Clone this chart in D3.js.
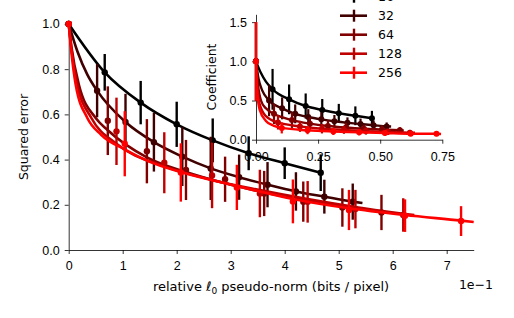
<!DOCTYPE html>
<html>
<head>
<meta charset="utf-8">
<script src="https://cdn.jsdelivr.net/npm/d3@7"></script>
<style>
  body { margin: 0; background: #fff; }
  svg { display: block; font-family: "DejaVu Sans", sans-serif; }
  .axis text { font-size: 12.5px; fill: #000; }
  .axis path, .axis line { stroke: #000; stroke-width: 0.8; }
</style>
</head>
<body>
<svg id="chart" width="514" height="318"></svg>
<script>
// dictionary sizes, one series each
const sizes = ['16', '32', '64', '128', '256'];
const colors = ['#000000', '#400000', '#800000', '#bf0000', '#ff0000'];

// main panel: error bars (x in units of 1e-1, squared error, half-width)
const mainX16 = [0, 0.667, 1.333, 2.0, 2.667, 3.333, 4.0, 4.667];
const mainY16 = [1.0, 0.786, 0.652, 0.556, 0.485, 0.428, 0.384, 0.342];
const mainE16 = [0, 0.081, 0.096, 0.1, 0.097, 0.075, 0.07, 0.081];

const mainX32 = [0, 0.526, 1.052, 1.578, 2.104, 2.63, 3.156, 3.682, 4.208, 4.734, 5.26];
const mainY32 = [1.0, 0.705, 0.566, 0.477, 0.413, 0.361, 0.322, 0.289, 0.259, 0.236, 0.214];
const mainE32 = [0, 0.118, 0.125, 0.13, 0.13, 0.14, 0.1, 0.1, 0.085, 0.075, 0.08];

const mainX64 = [0, 0.724, 1.448, 2.172, 2.896, 3.62, 4.344, 5.068, 5.792];
const mainY64 = [1.0, 0.572, 0.437, 0.354, 0.313, 0.25, 0.214, 0.188, 0.166];
const mainE64 = [0, 0.152, 0.142, 0.133, 0.1, 0.1, 0.089, 0.085, 0.078];

const mainX128 = [0, 0.885, 1.77, 2.655, 3.54, 4.425, 5.31, 6.195];
const mainY128 = [1.0, 0.525, 0.386, 0.33, 0.25, 0.213, 0.181, 0.155];
const mainE128 = [0, 0.149, 0.135, 0.145, 0.105, 0.092, 0.085, 0.074];

const mainX256 = [0, 1.038, 2.076, 3.114, 4.152, 5.19, 6.228, 7.266];
const mainY256 = [1.0, 0.47, 0.343, 0.277, 0.215, 0.177, 0.152, 0.128];
const mainE256 = [0, 0.144, 0.129, 0.1, 0.097, 0.089, 0.072, 0.066];

// main panel: curves [x, y]
const curve16 = [[0, 1], [0.667, 0.786], [1.333, 0.652], [2.0, 0.556], [2.667, 0.485], [3.333, 0.428], [4.0, 0.384], [4.667, 0.342]];
const curve32 = [[0, 1], [0.16, 0.879], [0.345, 0.776], [0.526, 0.705], [1.052, 0.566], [1.578, 0.477], [2.104, 0.413],
  [2.63, 0.361], [3.156, 0.322], [3.682, 0.289], [4.208, 0.259], [4.734, 0.236], [5.26, 0.214], [5.44, 0.208]];
const curve64 = [[0, 1], [0.05, 0.9], [0.19, 0.73], [0.5, 0.584], [0.724, 0.53], [1.448, 0.41], [2.172, 0.345], [2.896, 0.295],
  [3.62, 0.255], [4.344, 0.222], [5.068, 0.195], [5.792, 0.17], [5.95, 0.165]];
const curve128 = [[0, 1], [0.05, 0.89], [0.16, 0.73], [0.42, 0.584], [0.885, 0.47], [1.77, 0.37], [2.655, 0.31], [3.54, 0.265],
  [4.425, 0.225], [5.31, 0.19], [6.195, 0.16], [6.4, 0.155]];
const curve256 = [[0, 1], [0.048, 0.879], [0.13, 0.731], [0.345, 0.584], [0.6, 0.51], [1.038, 0.445], [1.5, 0.39], [2.076, 0.345],
  [3.114, 0.283], [4.152, 0.226], [5.19, 0.185], [6.228, 0.155], [7.266, 0.13], [7.5, 0.124]];

// inset: coefficient error bars
const insX16 = [0, 0.0667, 0.1333, 0.2, 0.2667, 0.3333, 0.4, 0.4667];
const insY16 = [1.0, 0.643, 0.515, 0.43, 0.379, 0.337, 0.305, 0.273];
const insE16 = [0.5, 0.26, 0.19, 0.16, 0.14, 0.12, 0.12, 0.095];

const insX32 = [0, 0.0526, 0.1052, 0.1578, 0.2104, 0.263, 0.3156, 0.3682, 0.4208, 0.4734, 0.526];
const insY32 = [1.0, 0.5, 0.4, 0.33, 0.29, 0.26, 0.235, 0.215, 0.2, 0.185, 0.17];
const insE32 = [0.5, 0.2, 0.14, 0.12, 0.1, 0.09, 0.08, 0.07, 0.07, 0.06, 0.05];

const insX64 = [0, 0.0724, 0.1448, 0.2172, 0.2896, 0.362, 0.4344, 0.5068, 0.5792];
const insY64 = [1.0, 0.33, 0.25, 0.205, 0.175, 0.155, 0.14, 0.13, 0.12];
const insE64 = [0.5, 0.13, 0.1, 0.08, 0.07, 0.06, 0.05, 0.05, 0.04];

const insX128 = [0, 0.0885, 0.177, 0.2655, 0.354, 0.4425, 0.531, 0.6195];
const insY128 = [1.0, 0.22, 0.17, 0.14, 0.125, 0.11, 0.1, 0.09];
const insE128 = [0.5, 0.09, 0.07, 0.06, 0.05, 0.045, 0.04, 0.035];

const insX256 = [0, 0.1038, 0.2076, 0.3114, 0.4152, 0.519, 0.6228, 0.7266];
const insY256 = [1.0, 0.15, 0.12, 0.105, 0.095, 0.085, 0.075, 0.075];
const insE256 = [0.5, 0.07, 0.05, 0.045, 0.04, 0.035, 0.03, 0.03];

// inset curves [x, y]
const insCurve16 = [[0, 1], [0.02, 0.85], [0.04, 0.74], [0.0667, 0.643], [0.1333, 0.515], [0.2, 0.43], [0.2667, 0.379],
  [0.3333, 0.337], [0.4, 0.305], [0.4667, 0.273]];
const insCurve32 = [[0, 1], [0.01, 0.78], [0.025, 0.63], [0.0526, 0.5], [0.1052, 0.4], [0.1578, 0.33], [0.2104, 0.29], [0.263, 0.26],
  [0.3156, 0.235], [0.3682, 0.215], [0.4208, 0.2], [0.4734, 0.185], [0.526, 0.17], [0.544, 0.168]];
const insCurve64 = [[0, 1], [0.008, 0.7], [0.02, 0.5], [0.04, 0.4], [0.0724, 0.33], [0.1448, 0.25], [0.2172, 0.205], [0.2896, 0.175],
  [0.362, 0.155], [0.4344, 0.14], [0.5068, 0.13], [0.5792, 0.12], [0.595, 0.118]];
const insCurve128 = [[0, 1], [0.006, 0.65], [0.015, 0.45], [0.04, 0.3], [0.0885, 0.22], [0.177, 0.17], [0.2655, 0.14], [0.354, 0.125],
  [0.4425, 0.11], [0.531, 0.1], [0.6195, 0.09], [0.64, 0.088]];
const insCurve256 = [[0, 1], [0.005, 0.6], [0.015, 0.38], [0.04, 0.24], [0.07, 0.18], [0.1038, 0.15], [0.2076, 0.12], [0.3114, 0.105],
  [0.4152, 0.095], [0.519, 0.085], [0.6228, 0.075], [0.7266, 0.075], [0.745, 0.072]];

const mainTicksX = [0, 1, 2, 3, 4, 5, 6, 7];
const mainTicksY = [0, 0.2, 0.4, 0.6, 0.8, 1.0];
const insTicksX = [0, 0.25, 0.5, 0.75];
const insTicksY = [0, 0.5, 1.0, 1.5];

const mainSeries = [
  { x: mainX16, y: mainY16, e: mainE16, curve: curve16 },
  { x: mainX32, y: mainY32, e: mainE32, curve: curve32 },
  { x: mainX64, y: mainY64, e: mainE64, curve: curve64 },
  { x: mainX128, y: mainY128, e: mainE128, curve: curve128 },
  { x: mainX256, y: mainY256, e: mainE256, curve: curve256 },
];
const insSeries = [
  { x: insX16, y: insY16, e: insE16, curve: insCurve16 },
  { x: insX32, y: insY32, e: insE32, curve: insCurve32 },
  { x: insX64, y: insY64, e: insE64, curve: insCurve64 },
  { x: insX128, y: insY128, e: insE128, curve: insCurve128 },
  { x: insX256, y: insY256, e: insE256, curve: insCurve256 },
];

const svg = d3.select('#chart');

function drawSeries(g, series, x, y, opts) {
  const line = d3.line().x(d => x(d[0])).y(d => y(d[1])).curve(d3.curveMonotoneX);
  series.forEach((s, i) => {
    const col = colors[i];
    const sg = g.append('g');
    sg.append('path')
      .attr('d', line(s.curve))
      .attr('fill', 'none')
      .attr('stroke', col)
      .attr('stroke-width', opts.lw)
      .attr('stroke-linejoin', 'round');
    const pts = s.x.map((xv, k) => ({ x: xv, y: s.y[k], e: s.e[k] }));
    sg.selectAll('line.err').data(pts.filter(p => p.e > 0)).join('line')
      .attr('class', 'err')
      .attr('x1', d => x(d.x)).attr('x2', d => x(d.x))
      .attr('y1', d => y(d.y - d.e)).attr('y2', d => y(d.y + d.e))
      .attr('stroke', col)
      .attr('stroke-width', opts.ew);
    sg.selectAll('circle').data(pts).join('circle')
      .attr('cx', d => x(d.x)).attr('cy', d => y(d.y))
      .attr('r', opts.r)
      .attr('fill', col);
  });
}

// ---------------------------------------------------------------- main axes
const x = d3.scaleLinear().domain([0, 7.5]).range([68.7, 473.7]);
const y = d3.scaleLinear().domain([0, 1.01]).range([250, 21.7]);

const gMain = svg.append('g');
gMain.append('g').attr('class', 'axis')
  .attr('transform', 'translate(0,250)')
  .call(d3.axisBottom(x).tickValues(mainTicksX).tickFormat(d3.format('d')).tickSize(4).tickSizeOuter(0).tickPadding(7));
gMain.append('g').attr('class', 'axis')
  .attr('transform', 'translate(68.7,0)')
  .call(d3.axisLeft(y).tickValues(mainTicksY).tickFormat(d3.format('.1f')).tickSize(4).tickSizeOuter(0).tickPadding(5));

drawSeries(gMain.append('g'), mainSeries, x, y, { lw: 2.6, ew: 2.4, r: 3.2 });

const xl = gMain.append('text')
  .attr('x', 271).attr('y', 291)
  .attr('text-anchor', 'middle')
  .attr('font-size', 13);
xl.append('tspan').text('relative ');
xl.append('tspan').attr('font-style', 'italic').text('ℓ');
xl.append('tspan').attr('font-size', 9).attr('dy', 3).text('0');
xl.append('tspan').attr('dy', -3).text(' pseudo-norm (bits / pixel)');

gMain.append('text')
  .attr('transform', 'translate(28,137) rotate(-90)')
  .attr('text-anchor', 'middle')
  .attr('font-size', 12.5)
  .text('Squared error');

gMain.append('text')
  .attr('x', 493).attr('y', 289)
  .attr('text-anchor', 'end')
  .attr('font-size', 12.5)
  .text('1e\u22121');

// ---------------------------------------------------------------- inset axes
const xi = d3.scaleLinear().domain([0, 0.75]).range([256, 442.3]);
const yi = d3.scaleLinear().domain([0, 1.6]).range([139.7, 14.3]);

const gIns = svg.append('g');
gIns.append('g').attr('class', 'axis')
  .attr('transform', 'translate(0,139.7)')
  .call(d3.axisBottom(xi).tickValues(insTicksX).tickFormat(d3.format('.2f')).tickSize(4).tickSizeOuter(0).tickPadding(8));
gIns.append('g').attr('class', 'axis')
  .attr('transform', 'translate(256,0)')
  .call(d3.axisLeft(yi).tickValues(insTicksY).tickFormat(d3.format('.1f')).tickSize(4).tickSizeOuter(0).tickPadding(5));

drawSeries(gIns.append('g'), insSeries, xi, yi, { lw: 2.4, ew: 2.2, r: 3 });

gIns.append('text')
  .attr('transform', 'translate(216,77) rotate(-90)')
  .attr('text-anchor', 'middle')
  .attr('font-size', 12.5)
  .text('Coefficient');

// ---------------------------------------------------------------- legend
const legend = svg.append('g');
sizes.forEach((s, i) => {
  const cy = -3.3 + i * 19;
  legend.append('line')
    .attr('x1', 340).attr('x2', 367).attr('y1', cy).attr('y2', cy)
    .attr('stroke', colors[i]).attr('stroke-width', 2.6);
  legend.append('line')
    .attr('x1', 354).attr('x2', 354).attr('y1', cy - 6).attr('y2', cy + 6)
    .attr('stroke', colors[i]).attr('stroke-width', 2.4);
  legend.append('text')
    .attr('x', 378).attr('y', cy + 4.6)
    .attr('font-size', 12.5)
    .text(s);
});
</script>
</body>
</html>
